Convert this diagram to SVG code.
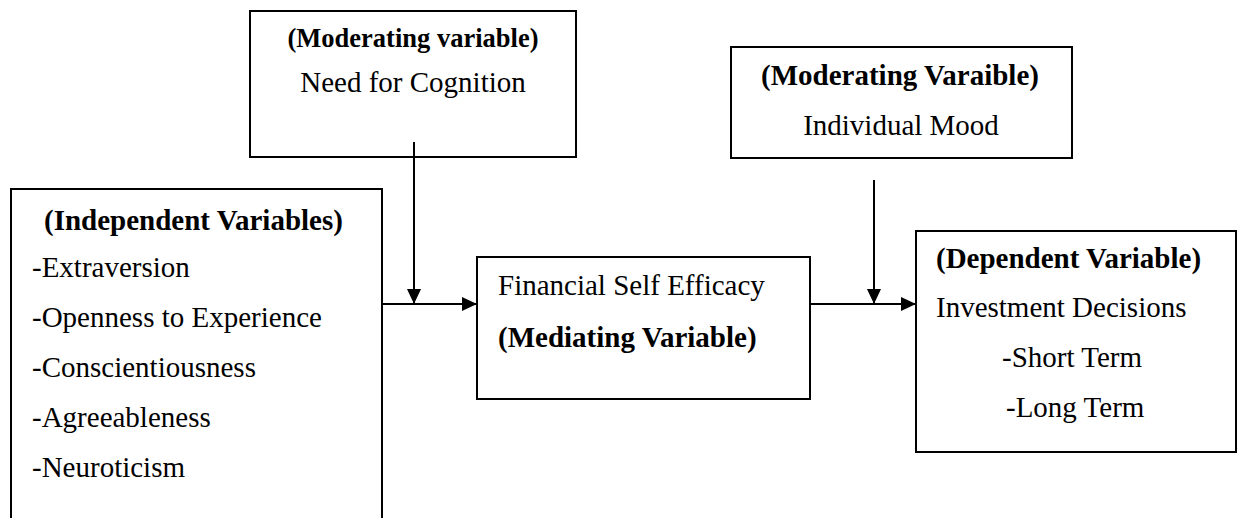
<svg xmlns="http://www.w3.org/2000/svg" width="1239" height="518" viewBox="0 0 1239 518">
<style>
.box{fill:#fff;stroke:#000;stroke-width:2}
.t{font-family:'Liberation Serif',Tinos,'Times New Roman',Times,'DejaVu Serif',serif;font-size:29px;fill:#000}
.b{font-weight:bold}
.ln{stroke:#000;stroke-width:2;fill:none}
</style>
<defs>
<marker id="ah" viewBox="0 0 15 14" refX="15" refY="7" markerWidth="15" markerHeight="14" markerUnits="userSpaceOnUse" orient="auto">
<path d="M0,0 L15,7 L0,14 Z" fill="#000"/>
</marker>
</defs>
<rect width="1239" height="518" fill="#fff"/>
<g id="independent">
<path class="box" d="M11,520 L11,189 L382,189 L382,520"/>
<text class="t b" x="44" y="230">(Independent Variables)</text>
<text class="t" x="32" y="277">-Extraversion</text>
<text class="t" x="32" y="327">-Openness to Experience</text>
<text class="t" x="32" y="377">-Conscientiousness</text>
<text class="t" x="32" y="427">-Agreeableness</text>
<text class="t" x="32" y="477">-Neuroticism</text>
</g>
<g id="need-for-cognition">
<rect class="box" x="250" y="11" width="326" height="146"/>
<text class="t b" x="413" y="47" text-anchor="middle" style="font-size:26.5px">(Moderating variable)</text>
<text class="t" x="413" y="92" text-anchor="middle">Need for Cognition</text>
</g>
<g id="individual-mood">
<rect class="box" x="731" y="47" width="341" height="111"/>
<text class="t b" x="900" y="85" text-anchor="middle">(Moderating Varaible)</text>
<text class="t" x="901" y="135" text-anchor="middle">Individual Mood</text>
</g>
<g id="mediating">
<rect class="box" x="477" y="257" width="333" height="142"/>
<text class="t" x="498" y="295">Financial Self Efficacy</text>
<text class="t b" x="498" y="347">(Mediating Variable)</text>
</g>
<g id="dependent">
<rect class="box" x="916" y="231" width="320" height="221"/>
<text class="t b" x="936" y="268">(Dependent Variable)</text>
<text class="t" x="936" y="317">Investment Decisions</text>
<text class="t" x="1002" y="367">-Short Term</text>
<text class="t" x="1006" y="417">-Long Term</text>
</g>
<g id="connectors">
<line class="ln" x1="382" y1="304" x2="477" y2="304" marker-end="url(#ah)"/>
<line class="ln" x1="414" y1="142" x2="414" y2="304" marker-end="url(#ah)"/>
<line class="ln" x1="810" y1="304" x2="916" y2="304" marker-end="url(#ah)"/>
<line class="ln" x1="874" y1="180" x2="874" y2="304" marker-end="url(#ah)"/>
</g>
</svg>
